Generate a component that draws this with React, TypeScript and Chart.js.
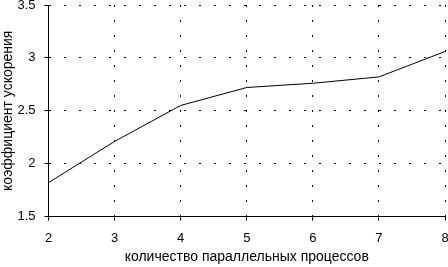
import React, { useEffect, useRef } from "react";
import { Chart, registerables } from "chart.js";

Chart.register(...registerables);

const processes = [2, 3, 4, 5, 6, 7, 8];
const speedup = [1.82, 2.21, 2.55, 2.72, 2.76, 2.82, 3.06];
const xRange = [2, 8];
const yRange = [1.5, 3.5];
const xTitle = "количество параллельных процессов";
const yTitle = "коэффициент ускорения";

const FONT = "'Liberation Sans', Arial, sans-serif";

const zeroPad = (s: any) => {
  s.paddingTop = 0;
  s.paddingBottom = 0;
  s.paddingLeft = 0;
  s.paddingRight = 0;
};

export default function App() {
  const ref = useRef<HTMLCanvasElement | null>(null);

  useEffect(() => {
    document.body.style.margin = "0";
    const canvas = ref.current;
    if (!canvas) return;
    const chart = new Chart(canvas, {
      type: "line",
      data: {
        datasets: [
          {
            data: processes.map((x, i) => ({ x, y: speedup[i] })),
            borderColor: "#000",
            borderWidth: 1,
            pointRadius: 0,
            tension: 0,
            fill: false,
          },
        ],
      },
      options: {
        responsive: false,
        animation: false,
        events: [],
        layout: { padding: { top: 5, right: 3, left: 0, bottom: 0 } },
        plugins: { legend: { display: false }, tooltip: { enabled: false } },
        scales: {
          x: {
            type: "linear",
            min: xRange[0],
            max: xRange[1],
            afterFit: (s: any) => {
              s.height = 50.5;
              zeroPad(s);
            },
            ticks: {
              stepSize: 1,
              color: "#000",
              padding: 10,
              maxRotation: 0,
              font: { family: FONT, size: 13 },
              callback: (v: any) => String(v),
            },
            grid: {
              color: "#000",
              lineWidth: 1,
              tickLength: 4,
              tickColor: "#000",
            },
            border: { display: true, color: "#000", width: 1, dash: [2, 13] },
            title: {
              display: true,
              text: xTitle,
              color: "#000",
              font: { family: FONT, size: 14 },
              padding: { top: 0, bottom: 1 },
            },
          },
          y: {
            type: "linear",
            min: yRange[0],
            max: yRange[1],
            afterFit: (s: any) => {
              s.width = 48.5;
              zeroPad(s);
            },
            ticks: {
              stepSize: 0.5,
              color: "#000",
              padding: 9,
              font: { family: FONT, size: 13 },
              callback: (v: any) => String(v),
            },
            grid: {
              color: "#000",
              lineWidth: 1,
              tickLength: 4,
              tickColor: "#000",
            },
            border: { display: true, color: "#000", width: 1, dash: [2, 13] },
            title: {
              display: true,
              text: yTitle,
              color: "#000",
              font: { family: FONT, size: 14 },
              padding: { top: 0, bottom: 0 },
            },
          },
        },
      },
    });
    return () => chart.destroy();
  }, []);

  return (
    <div style={{ width: 448, height: 267 }}>
      <canvas ref={ref} width={448} height={267} style={{ display: "block" }} />
    </div>
  );
}
